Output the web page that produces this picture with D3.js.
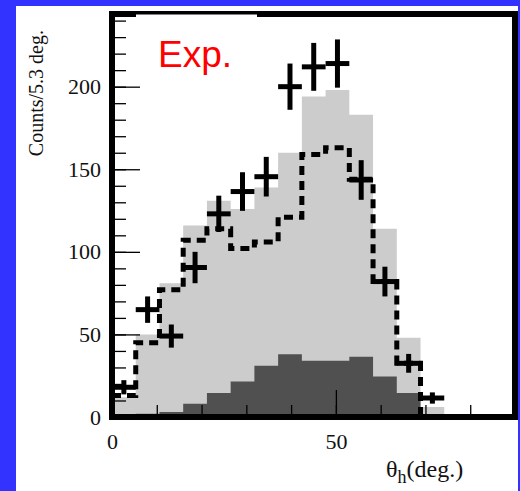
<!DOCTYPE html>
<html>
<head>
<meta charset="utf-8">
<script src="https://cdn.jsdelivr.net/npm/d3@7"></script>
<style>
  body { margin: 0; background: #3333ff; }
  .axis text { font-family: "Liberation Serif", "Times New Roman", serif; font-size: 22px; fill: #111; }
  .axis line { stroke: #000; stroke-width: 1.3px; }
</style>
</head>
<body>
<div id="chart-area"></div>
<script>

// Histogram data (bins of 5.3 deg starting at 0)
var binWidth = 5.3;
var totalCounts = [12, 50, 81, 116, 131, 126, 139, 160, 194, 198, 183, 114, 48, 6];
var bgCounts    = [0, 2, 3, 8, 14.5, 21.5, 31, 38, 34, 34, 36.5, 24.5, 14.5, 0];
var simCounts   = [13, 45, 77, 107, 114, 102, 106, 121, 159, 163, 144, 82, 32.5, 0];
var expCounts   = [18, 65, 49, 90.5, 123, 136.5, 145.5, 200, 212, 214, 143.5, 82, 32.5, 11.5];
var expErrors   = [4.3, 8, 7, 9.5, 11, 11.7, 12, 14, 14.5, 14.6, 12, 9, 5.7, 3.4];

var yMajorTicks = [0, 50, 100, 150, 200];
var xMajorTicks = [0, 50];

var W = 520, H = 491;

var svg = d3.select("#chart-area").append("svg")
    .attr("width", W)
    .attr("height", H);

// white panel
svg.append("rect")
    .attr("x", 16).attr("y", 6)
    .attr("width", 502).attr("height", 485)
    .attr("fill", "#fff");

// Scales
var x = d3.scaleLinear().domain([0, 90]).range([112, 515]);
var y = d3.scaleLinear().domain([0, 244]).range([417, 14]);

// step points for a histogram
function steps(counts) {
    var pts = [];
    counts.forEach(function(c, i) {
        pts.push([i * binWidth, c]);
        pts.push([(i + 1) * binWidth, c]);
    });
    return pts;
}

var area = d3.area()
    .x(function(d) { return x(d[0]); })
    .y0(y(0))
    .y1(function(d) { return y(d[1]); });

svg.append("path")
    .datum(steps(totalCounts))
    .attr("fill", "#cccccc")
    .attr("d", area);

svg.append("path")
    .datum(steps(bgCounts))
    .attr("fill", "#505050")
    .attr("d", area);

// Axes (ticks inside the frame)
var yMinor = d3.axisLeft(y).tickValues(d3.range(0, 250, 10)).tickSize(-14).tickFormat("");
var yMajor = d3.axisLeft(y).tickValues(yMajorTicks).tickSize(-28).tickPadding(11);

svg.append("g").attr("class", "axis").attr("transform", "translate(112,0)").call(yMinor);
svg.append("g").attr("class", "axis").attr("transform", "translate(112,0)").call(yMajor);

var xMinor = d3.axisBottom(x).tickValues(d3.range(0, 90, 10)).tickSize(-12).tickFormat("");
var xMajor = d3.axisBottom(x).tickValues(xMajorTicks).tickSize(-27).tickPadding(16);

svg.append("g").attr("class", "axis").attr("transform", "translate(0,417)").call(xMinor);
svg.append("g").attr("class", "axis").attr("transform", "translate(0,417)").call(xMajor);

svg.selectAll(".axis .domain").remove();

// dashed simulation histogram
var line = d3.line()
    .x(function(d) { return x(d[0]); })
    .y(function(d) { return y(d[1]); });

svg.append("path")
    .datum(steps(simCounts))
    .attr("fill", "none")
    .attr("stroke", "#000")
    .attr("stroke-width", 5)
    .attr("stroke-dasharray", "9,6")
    .attr("d", line);

// experimental points with error bars
var pts = svg.append("g");
expCounts.forEach(function(c, i) {
    var xc = (i + 0.5) * binWidth;
    pts.append("line")
        .attr("x1", x(i * binWidth)).attr("x2", x((i + 1) * binWidth))
        .attr("y1", y(c)).attr("y2", y(c))
        .attr("stroke", "#000").attr("stroke-width", 5);
    pts.append("line")
        .attr("x1", x(xc)).attr("x2", x(xc))
        .attr("y1", y(c - expErrors[i])).attr("y2", y(c + expErrors[i]))
        .attr("stroke", "#000").attr("stroke-width", 5);
});

// frame
svg.append("rect")
    .attr("x", x(0)).attr("y", y(244))
    .attr("width", x(90) - x(0)).attr("height", y(0) - y(244))
    .attr("fill", "none")
    .attr("stroke", "#000")
    .attr("stroke-width", 6);

// "Exp." label box (sits over the top of the frame)
svg.append("rect")
    .attr("x", 136).attr("y", 14.5)
    .attr("width", 121).attr("height", 66)
    .attr("fill", "#fff");

svg.append("text")
    .attr("x", 158).attr("y", 67)
    .attr("fill", "#ff0000")
    .style("font-family", "Liberation Sans, Arial, sans-serif")
    .style("font-size", "37px")
    .text("Exp.");

// Axis titles
svg.append("text")
    .attr("transform", "translate(42.5,30) rotate(-90)")
    .attr("text-anchor", "end")
    .style("font-family", "Liberation Serif, serif")
    .style("font-size", "20px")
    .attr("fill", "#111")
    .text("Counts/5.3 deg.");

var xt = svg.append("text")
    .attr("x", 386).attr("y", 477)
    .style("font-family", "Liberation Serif, serif")
    .style("font-size", "24px")
    .attr("fill", "#111");
xt.append("tspan").text("θ");
xt.append("tspan").attr("dy", 6).style("font-size", "18px").text("h");
xt.append("tspan").attr("dy", -6).text("(deg.)");

</script>
</body>
</html>
